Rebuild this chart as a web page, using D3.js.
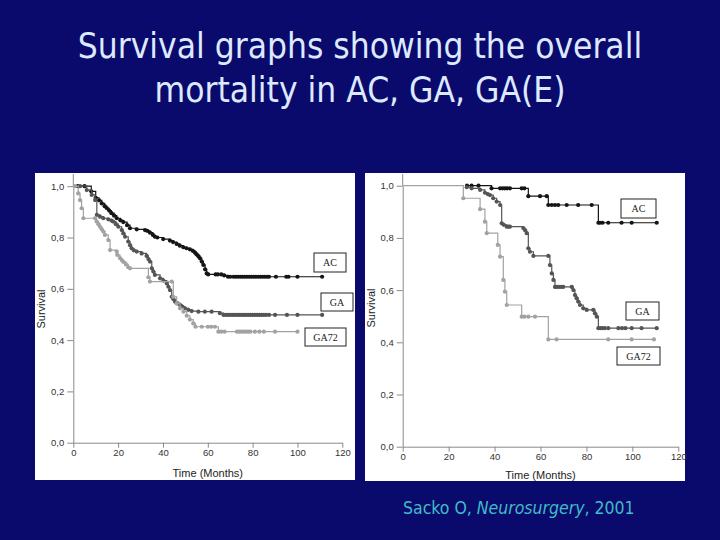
<!DOCTYPE html>
<html>
<head>
<meta charset="utf-8">
<script src="https://cdn.jsdelivr.net/npm/d3@7"></script>
<style>
  body { margin: 0; background: #0a0a6c; }
  svg { display: block; }
</style>
</head>
<body>
<script>
var W = 720, H = 540;

var titleLines = ['Survival graphs showing the overall', 'mortality in AC, GA, GA(E)'];
var xTicks = [0, 20, 40, 60, 80, 100, 120];
var yTicks = [0, 0.2, 0.4, 0.6, 0.8, 1.0];
var seriesNames = ['AC', 'GA', 'GA72'];
var seriesColors = ['#151515', '#555555', '#a2a2a2'];
var xLabel = 'Time (Months)';
var yLabel = 'Survival';

// left graph : [time, survival]
var leftAC = [[0,1],[2,1],[5,1],[8,0.98],[10,0.955],[11.5,0.945],[12.7,0.933],[14,0.922],[15,0.914],
  [16,0.905],[17,0.895],[18.2,0.885],[19.4,0.875],[21,0.867],[22.3,0.86],[24,0.848],[25.3,0.836],
  [28.3,0.832],[32,0.829],[33,0.826],[34.2,0.819],[35.5,0.81],[36.4,0.803],[37.5,0.8],[40.1,0.794],
  [43.1,0.788],[44.5,0.782],[46.1,0.775],[47.5,0.768],[49.1,0.762],[50.5,0.758],[52,0.754],[53.3,0.748],
  [54.3,0.741],[55,0.734],[55.8,0.727],[56.5,0.719],[57.3,0.706],[58,0.693],[58.8,0.676],[59.5,0.66],
  [60.2,0.656],[63.5,0.656],[64.5,0.656],[66,0.656],[67.3,0.652],[69,0.647],[70,0.647],[71.5,0.647],
  [72.5,0.647],[73.5,0.647],[74.5,0.647],[75.5,0.647],[76.5,0.647],[77.5,0.647],[78.5,0.647],[79.5,0.647],
  [80.5,0.647],[81.5,0.647],[82.5,0.647],[83.5,0.647],[84.5,0.647],[85.5,0.647],[86.5,0.647],[87.3,0.647],
  [90.4,0.647],[95,0.647],[96,0.647],[100,0.647],[111,0.647]];
var leftGA = [[0,1],[3,1],[6,0.985],[8.2,0.966],[9.7,0.946],[10.5,0.888],[11.9,0.881],[13.4,0.875],
  [15.6,0.871],[17,0.866],[17.8,0.862],[19,0.852],[20.1,0.842],[21.6,0.829],[22.3,0.816],[23.1,0.803],
  [24.5,0.784],[25.3,0.77],[26,0.758],[27,0.75],[28.3,0.745],[30.5,0.738],[32.7,0.728],[33.5,0.716],
  [34.2,0.706],[35,0.68],[35.7,0.667],[36.4,0.654],[38.7,0.641],[40.2,0.632],[41.7,0.621],[42.4,0.608],
  [43.1,0.595],[43.9,0.569],[44.6,0.56],[45.4,0.55],[46.5,0.543],[47.6,0.537],[48.7,0.53],[49.8,0.524],
  [51.3,0.518],[52.8,0.513],[55.8,0.511],[58.7,0.511],[61.7,0.511],[65.4,0.505],[67,0.498],[68,0.498],
  [69,0.498],[70,0.498],[71,0.498],[72,0.498],[73,0.498],[74,0.498],[75,0.498],[76,0.498],[77,0.498],
  [78,0.498],[79,0.498],[80,0.498],[81,0.498],[82,0.498],[83,0.498],[84,0.498],[85,0.498],[86,0.498],
  [87.3,0.498],[90,0.498],[95.3,0.498],[100,0.498],[111,0.498]];
var leftGA72 = [[0,1],[0.8,1],[2.2,0.972],[3,0.946],[3.7,0.914],[4.5,0.875],[9.7,0.875],[10.4,0.862],
  [11.2,0.852],[11.9,0.842],[12.7,0.832],[13.4,0.823],[14.1,0.81],[15.6,0.79],[16.4,0.751],[19.4,0.745],
  [19.6,0.732],[20.8,0.72],[21.6,0.712],[22.3,0.705],[23.5,0.695],[24.5,0.684],[25.3,0.68],[33.5,0.645],
  [34.2,0.628],[43.9,0.628],[44.6,0.569],[46.1,0.543],[47.6,0.524],[49.1,0.511],[50.6,0.495],[52,0.48],
  [53.5,0.465],[54.5,0.452],[57.3,0.452],[60,0.452],[61.5,0.452],[63.2,0.452],[64.7,0.433],[66,0.433],
  [67.5,0.433],[73,0.433],[74,0.433],[75,0.433],[76,0.433],[77,0.433],[78,0.433],[79,0.433],[81,0.433],
  [83,0.433],[85,0.433],[90,0.433],[100,0.433]];

// right graph : [time, survival]; AC and GA first seen at their first mark
var rightAC = [[28,1],[30,1],[33,1],[38.7,0.99],[42.4,0.99],[43.5,0.99],[44.5,0.99],[45.5,0.99],
  [46.7,0.99],[51.8,0.99],[53,0.99],[54.7,0.96],[59.8,0.96],[62.7,0.96],[63.4,0.926],[64.9,0.926],
  [66.3,0.926],[67.7,0.926],[71.4,0.926],[76.4,0.926],[82.3,0.926],[85.2,0.858],[85.9,0.858],[87,0.858],
  [89.5,0.858],[95.3,0.858],[99.7,0.858],[110.6,0.858]];
var rightGA = [[27.9,0.994],[30,0.99],[33.7,0.984],[35.8,0.973],[37,0.968],[38,0.964],[39.4,0.952],
  [40.9,0.939],[42.4,0.926],[43.1,0.856],[44,0.85],[45.3,0.843],[46,0.843],[46.7,0.843],[52.5,0.838],
  [53.2,0.83],[54,0.818],[54.7,0.76],[55.4,0.747],[56.9,0.731],[63.4,0.731],[64.1,0.696],[64.9,0.664],
  [65.6,0.639],[66.3,0.612],[67,0.612],[68,0.612],[69,0.612],[69.9,0.612],[73.6,0.612],[74.3,0.6],
  [75,0.581],[75.7,0.569],[76.4,0.556],[77.2,0.543],[78.6,0.53],[80.1,0.524],[83,0.524],[83.7,0.511],
  [84.5,0.498],[85.2,0.454],[86,0.454],[87,0.454],[88,0.454],[89.5,0.454],[93.9,0.454],[95.5,0.454],
  [97,0.454],[99.7,0.454],[104,0.454],[110.6,0.454]];
var rightGA72 = [[0,1],[26.4,0.952],[33.7,0.91],[35.8,0.862],[36.6,0.818],[41.4,0.773],[42.4,0.728],
  [43.8,0.639],[44.5,0.594],[45.3,0.543],[51.8,0.498],[53,0.498],[54.7,0.498],[57.6,0.498],[63.4,0.411],
  [67,0.411],[89.5,0.411],[99.7,0.411],[109.4,0.411]];

var panels = [
  {
    box: [35, 173, 320, 307],
    xRange: [73.3, 342.3], yRange: [442.7, 186.2],
    series: [leftAC, leftGA, leftGA72],
    legend: [[314, 253, 32, 19], [321, 293, 32, 18], [305, 328, 41, 18]],
    yLabelX: 45, yLabelY: 309, xLabelY: 477
  },
  {
    box: [365, 173, 320, 308],
    xRange: [402.7, 678.3], yRange: [446.7, 185.7],
    series: [rightAC, rightGA, rightGA72],
    legend: [[621, 199, 35, 19], [626, 302, 33, 18], [617, 347, 43, 18]],
    yLabelX: 375, yLabelY: 308, xLabelY: 479
  }
];

var comma = d3.formatLocale({ decimal: ',', thousands: '.', grouping: [3], currency: ['', ''] }).format('.1f');

var svg = d3.select('body').append('svg')
  .attr('width', W)
  .attr('height', H);

svg.append('rect')
  .attr('width', W).attr('height', H)
  .attr('fill', '#0a0a6c');

// title
svg.selectAll('text.title')
  .data(titleLines)
  .enter().append('text')
  .attr('class', 'title')
  .attr('x', W / 2)
  .attr('y', (d, i) => 58 + i * 44)
  .attr('text-anchor', 'middle')
  .attr('font-family', 'DejaVu Sans Condensed, DejaVu Sans')
  .attr('font-size', 35)
  .attr('fill', '#dde9ff')
  .text(d => d);

var drawPanel = (p) => {
  var g = svg.append('g');

  g.append('rect')
    .attr('x', p.box[0]).attr('y', p.box[1])
    .attr('width', p.box[2]).attr('height', p.box[3])
    .attr('fill', '#ffffff');

  var x = d3.scaleLinear().domain([0, 120]).range(p.xRange);
  var y = d3.scaleLinear().domain([0, 1]).range(p.yRange);

  // axes
  var xAxis = g.append('g')
    .attr('transform', 'translate(0,' + p.yRange[0] + ')')
    .call(d3.axisBottom(x).tickValues(xTicks).tickSize(5).tickSizeOuter(0).tickPadding(2));
  var yAxis = g.append('g')
    .attr('transform', 'translate(' + p.xRange[0] + ',0)')
    .call(d3.axisLeft(y).tickValues(yTicks).tickSize(6).tickSizeOuter(0).tickPadding(3).tickFormat(comma));

  [xAxis, yAxis].forEach((a) => {
    a.selectAll('path, line').attr('stroke', '#8a8a8a');
    a.selectAll('text')
      .attr('fill', '#333')
      .attr('font-family', 'Liberation Sans, Arial')
      .attr('font-size', 9.5);
  });

  // y axis runs up to the top of the panel
  g.append('line')
    .attr('x1', p.xRange[0]).attr('x2', p.xRange[0])
    .attr('y1', p.yRange[1]).attr('y2', p.box[1] + 1)
    .attr('stroke', '#8a8a8a');

  g.append('text')
    .attr('x', (p.xRange[0] + p.xRange[1]) / 2)
    .attr('y', p.xLabelY)
    .attr('text-anchor', 'middle')
    .attr('font-family', 'Liberation Sans, Arial')
    .attr('font-size', 11)
    .attr('fill', '#222')
    .text(xLabel);

  g.append('text')
    .attr('transform', 'translate(' + p.yLabelX + ',' + p.yLabelY + ') rotate(-90)')
    .attr('text-anchor', 'middle')
    .attr('font-family', 'Liberation Sans, Arial')
    .attr('font-size', 11)
    .attr('fill', '#222')
    .text(yLabel);

  var line = d3.line()
    .x(d => x(d[0]))
    .y(d => y(d[1]))
    .curve(d3.curveStepAfter);

  p.series.forEach((s, si) => {
    g.append('path')
      .attr('d', line(s))
      .attr('fill', 'none')
      .attr('stroke', seriesColors[si])
      .attr('stroke-width', 1.2);

    g.selectAll('circle.s' + si)
      .data(s.filter(d => d[0] > 0))
      .enter().append('circle')
      .attr('class', 's' + si)
      .attr('cx', d => x(d[0]))
      .attr('cy', d => y(d[1]))
      .attr('r', 2.1)
      .attr('fill', seriesColors[si]);
  });

  // legend boxes
  p.legend.forEach((b, i) => {
    g.append('rect')
      .attr('x', b[0]).attr('y', b[1])
      .attr('width', b[2]).attr('height', b[3])
      .attr('fill', '#fff')
      .attr('stroke', '#222')
      .attr('stroke-width', 1);
    g.append('text')
      .attr('x', b[0] + b[2] / 2)
      .attr('y', b[1] + b[3] / 2 + 3.5)
      .attr('text-anchor', 'middle')
      .attr('font-family', 'Liberation Serif, Times New Roman')
      .attr('font-size', 10)
      .attr('fill', '#222')
      .text(seriesNames[i]);
  });
};

panels.forEach(drawPanel);

// source line
var src = svg.append('text')
  .attr('x', 403)
  .attr('y', 514)
  .attr('font-family', 'DejaVu Sans Condensed, DejaVu Sans')
  .attr('font-size', 17.5)
  .attr('fill', '#3fbcc6');
src.append('tspan').text('Sacko O, ');
src.append('tspan').attr('font-style', 'italic').text('Neurosurgery');
src.append('tspan').text(', 2001');
</script>
</body>
</html>
